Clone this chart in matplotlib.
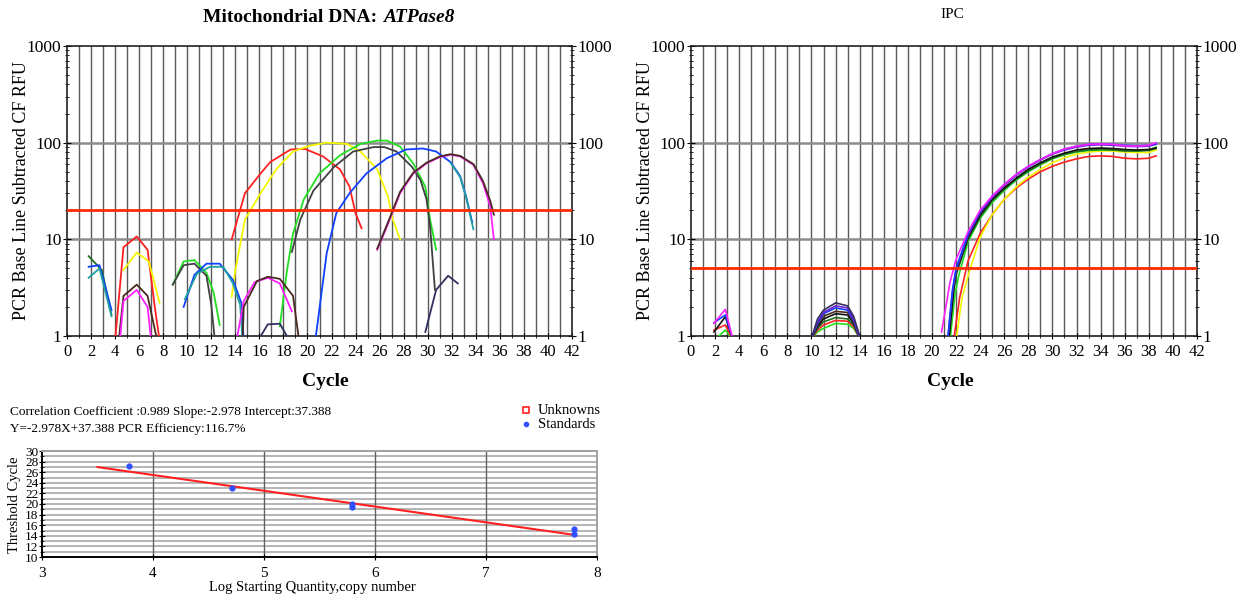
# plot.py
# Recria a figura de qPCR: curvas de amplificação (ATPase8 e IPC) + curva padrão

import matplotlib
matplotlib.use("Agg")
import matplotlib.pyplot as plt
from matplotlib.ticker import FixedLocator, MultipleLocator, FuncFormatter

plt.rcParams["font.family"] = "serif"
plt.rcParams["font.serif"] = ["Liberation Serif", "DejaVu Serif"]

# -------------------------------------------------------------------
# Dados: ATPase8 (ciclo, RFU)
# -------------------------------------------------------------------
atp_red_x = [13.7, 14.8, 16.1, 16.9, 18.6, 19.8, 21.3, 22.7, 23.5, 24.0, 24.5]
atp_red_y = [10, 30, 48, 63, 85, 86, 72, 53, 35, 18.6, 13]
atp_yellow_x = [13.7, 14.0, 14.8, 16.1, 17.4, 18.8, 20.2, 21.6, 23.3, 24.4, 25.8, 26.7, 27.1, 27.7]
atp_yellow_y = [2.55, 4.8, 16, 30, 53, 81, 93, 100, 97, 81, 53, 27.5, 16, 10]
atp_green_x = [17.7, 18.3, 18.8, 19.7, 21.0, 22.7, 24.4, 25.8, 26.6, 27.7, 28.8, 29.8, 30.2, 30.7]
atp_green_y = [1.26, 4.8, 11.5, 26, 48, 74, 97, 105, 105, 91, 61, 35, 16, 7.8]
atp_gray_x = [18.7, 19.4, 20.5, 22.2, 23.8, 25.5, 26.4, 27.4, 28.7, 29.4, 29.9, 30.2, 30.6]
atp_gray_y = [7.4, 16, 32, 56, 81, 90, 90, 81, 56, 41, 26, 13.5, 3.0]
atp_navy2_x = [29.8, 30.7, 31.7, 32.5]
atp_navy2_y = [1.1, 3.0, 4.2, 3.5]
atp_blue_x = [20.7, 21.6, 22.4, 23.5, 24.9, 26.6, 28.2, 29.6, 30.7, 31.9, 32.7, 33.2, 33.7]
atp_blue_y = [1.0, 7.2, 18.7, 30, 48, 69, 85, 87, 81, 63, 45, 27.5, 15]
atp_teal_x = [31.9, 32.7, 33.2, 33.8]
atp_teal_y = [62, 44, 27, 12.7]
atp_magenta_x = [25.8, 26.6, 27.7, 28.8, 29.9, 31.0, 31.9, 32.7, 33.8, 34.6, 35.2, 35.5]
atp_magenta_y = [7.8, 13.5, 30, 48, 61, 71, 75, 72, 59, 38, 22, 10]
atp_brown_x = [25.8, 26.6, 27.7, 28.8, 29.9, 31.0, 31.9, 32.7, 33.8, 34.6, 35.2, 35.5]
atp_brown_y = [8, 14, 31, 49, 62, 72, 76, 73, 60, 40, 25, 18]

# curvas pequenas (ruído abaixo do limiar)
atp_dkgreen_a_x = [1.8, 2.9, 3.7]
atp_dkgreen_a_y = [6.7, 4.8, 1.66]
atp_blue_a_x = [1.8, 2.7, 3.7]
atp_blue_a_y = [5.2, 5.4, 1.86]
atp_teal_a_x = [1.8, 2.7, 3.7]
atp_teal_a_y = [4.0, 5.0, 1.6]
atp_red_a_x = [4.0, 4.7, 5.8, 6.7, 7.3, 7.7]
atp_red_a_y = [0.9, 8.3, 10.7, 7.8, 2.0, 0.9]
atp_yellow_a_x = [4.7, 5.8, 6.8, 7.7]
atp_yellow_a_y = [4.8, 7.3, 5.9, 2.2]
atp_brown_a_x = [4.3, 4.7, 5.8, 6.7, 7.5]
atp_brown_a_y = [0.9, 2.6, 3.4, 2.6, 0.9]
atp_magenta_a_x = [4.4, 4.7, 5.8, 6.7, 7.0]
atp_magenta_a_y = [0.9, 2.3, 3.0, 2.0, 0.9]
atp_green_b_x = [8.8, 9.7, 10.6, 11.6, 12.2, 12.7]
atp_green_b_y = [3.4, 5.9, 6.1, 4.5, 2.8, 1.3]
atp_gray_b_x = [8.8, 9.7, 10.6, 11.6, 12.0, 12.3]
atp_gray_b_y = [3.4, 5.4, 5.6, 4.2, 2.1, 0.9]
atp_blue_b_x = [9.7, 10.6, 11.6, 12.7, 13.8, 14.5, 14.7]
atp_blue_b_y = [2.0, 4.3, 5.6, 5.6, 3.8, 2.2, 0.9]
atp_teal_b_x = [9.8, 10.8, 11.9, 13.0, 13.8, 14.4, 14.6]
atp_teal_b_y = [2.4, 4.4, 5.2, 5.2, 3.5, 2.1, 0.9]
atp_magenta_c_x = [14.1, 14.7, 15.6, 16.7, 17.7, 18.7]
atp_magenta_c_y = [0.9, 2.3, 3.6, 4.0, 3.5, 1.8]
atp_brown_c_x = [14.6, 14.7, 15.8, 16.7, 17.7, 18.8, 19.3]
atp_brown_c_y = [0.9, 2.0, 3.7, 4.1, 3.9, 2.6, 0.9]
atp_navy_c_x = [15.9, 16.7, 17.7, 18.5]
atp_navy_c_y = [0.9, 1.32, 1.34, 0.9]

atp_threshold = 20

# -------------------------------------------------------------------
# Dados: IPC
# -------------------------------------------------------------------
ipc_magenta_x = [20.8, 21.5, 22, 23, 24, 25, 26, 27, 28, 29, 30, 31, 32, 33, 34, 35, 36, 37, 38, 38.6]
ipc_magenta_y = [1.1, 3.6, 6.2, 12, 20, 28, 37, 47, 57, 67, 77, 86, 92, 96, 97, 96, 93, 92, 94, 100]
ipc_blue_x = [21.3, 21.7, 22, 23, 24, 25, 26, 27, 28, 29, 30, 31, 32, 33, 34, 35, 36, 37, 38, 38.6]
ipc_blue_y = [0.9, 3, 5, 11.5, 19.5, 28, 37, 47, 57, 67, 77, 86, 92, 96, 97, 96, 94, 93, 94, 98]
ipc_purple_y = [0.9, 2.8, 4.8, 11, 19, 27, 36, 46, 56, 66, 76, 84, 90, 94, 95, 94, 92, 91, 92, 96]
ipc_black_x = [21.4, 21.8, 22, 23, 24, 25, 26, 27, 28, 29, 30, 31, 32, 33, 34, 35, 36, 37, 38, 38.6]
ipc_black_y = [0.9, 3, 4.6, 10.5, 18, 26, 34, 43, 53, 62, 71, 78, 84, 87, 88, 87, 85, 84, 85, 88]
ipc_dkgreen_y = [0.9, 2.8, 4.3, 10, 17, 25, 33, 42, 51, 60, 69, 76, 81, 84, 85, 84, 82, 82, 83, 87]
ipc_green_x = [21.5, 21.9, 22.2, 23, 24, 25, 26, 27, 28, 29, 30, 31, 32, 33, 34, 35, 36, 37, 38, 38.6]
ipc_green_y = [0.9, 2.6, 4.1, 9.5, 16.5, 24, 32, 41, 50, 59, 68, 75, 80, 83, 84, 84, 83, 82, 84, 90]
ipc_yellow_x = [22.0, 22.5, 23, 24, 25, 26, 27, 28, 29, 30, 31, 32, 33, 34, 35, 36, 37, 38, 38.6]
ipc_yellow_y = [0.9, 2.5, 4.2, 10.5, 18, 26, 35, 44, 53, 62, 70, 76, 80, 82, 82, 80, 79, 79, 84]
ipc_red_x = [21.8, 22.3, 23, 24, 25, 26, 27, 28, 29, 30, 31, 32, 33, 34, 35, 36, 37, 38, 38.6]
ipc_red_y = [0.9, 2.5, 6, 11.5, 18, 26, 34, 42, 50, 57, 63, 68, 72, 73, 72, 69, 68, 69, 73]

# pequenas bolhas antes da amplificação
ipc_bump1_x = [1.9, 2.85, 3.5]
ipc_bump1_magenta = [1.35, 1.89, 0.9]
ipc_bump1_blue = [1.37, 1.65, 0.9]
ipc_bump1_black = [1.1, 1.58, 0.9]
ipc_bump1_red = [1.15, 1.3, 0.9]
ipc_bump1_green = [0.9, 1.15, 0.9]
ipc_bump2_x = [10.0, 10.5, 11.0, 12.0, 13.0, 13.5, 14.0]
ipc_bump2_navy = [0.95, 1.5, 1.85, 2.2, 2.05, 1.6, 1.0]
ipc_bump2_purple = [0.95, 1.4, 1.75, 2.05, 1.95, 1.5, 0.95]
ipc_bump2_blue = [0.95, 1.35, 1.7, 1.95, 1.85, 1.45, 0.95]
ipc_bump2_brown = [0.95, 1.3, 1.6, 1.8, 1.75, 1.4, 0.95]
ipc_bump2_black = [0.95, 1.25, 1.5, 1.7, 1.65, 1.35, 0.95]
ipc_bump2_dkgreen = [0.95, 1.2, 1.4, 1.55, 1.5, 1.3, 0.95]
ipc_bump2_red = [0.95, 1.15, 1.3, 1.45, 1.42, 1.25, 0.95]
ipc_bump2_green = [0.95, 1.1, 1.2, 1.35, 1.32, 1.2, 0.95]

ipc_threshold = 5

# -------------------------------------------------------------------
# Dados: curva padrão
# -------------------------------------------------------------------
std_logq = [3.78, 4.71, 5.79, 5.79, 7.79, 7.79]
std_ct = [27.2, 23.1, 20.0, 19.5, 15.3, 14.3]
fit_slope = -2.978
fit_intercept = 37.388
fit_range = [3.5, 7.78]

# cores
RED = "#ff2020"
YELLOW = "#f5f500"
GREEN = "#20e020"
GRAY = "#404040"
BLUE = "#1040ff"
TEAL = "#20a0a0"
MAGENTA = "#ff20ff"
BROWN = "#4a2a20"
NAVY = "#303060"
DKGREEN = "#207020"
PURPLE = "#7020d0"
BLACK = "#101010"


def px(x):
    return x / 1247


def py(y):
    return 1 - y / 595


def setup_amp(ax, threshold):
    ax.set_yscale("log")
    ax.set_xlim(0, 42)
    ax.set_ylim(1, 1000)
    ax.xaxis.set_major_locator(MultipleLocator(2))
    ax.xaxis.set_minor_locator(MultipleLocator(1))
    ax.yaxis.set_major_locator(FixedLocator([1, 10, 100, 1000]))
    ax.yaxis.set_major_formatter(FuncFormatter(lambda v, p: f"{v:g}"))
    for c in range(1, 42):
        ax.axvline(c, color="#5a5a5a", lw=1.0, zorder=0)
    for v in (10, 100):
        ax.axhline(v, color="#8c8c8c", lw=1.8, zorder=0)
    ax.axhline(threshold, color="#ff2a00", lw=2.0, zorder=5)
    ax.tick_params(axis="y", which="both", left=True, right=True,
                   labelleft=True, labelright=True, direction="inout",
                   labelsize=12.5, pad=1)
    ax.tick_params(axis="y", which="major", length=6)
    ax.tick_params(axis="y", which="minor", length=3)
    ax.tick_params(axis="x", which="both", direction="inout", labelsize=12, pad=3)
    ax.tick_params(axis="x", which="major", length=5)
    ax.tick_params(axis="x", which="minor", length=3)
    for s in ax.spines.values():
        s.set_color("#202020")
        s.set_linewidth(1.2)


fig = plt.figure(figsize=(12.47, 5.95), dpi=100)

# -------------------------------------------------------------------
# Painel esquerdo: ATPase8
# -------------------------------------------------------------------
ax1 = fig.add_axes([px(67), py(336), px(505), 290 / 595])
setup_amp(ax1, atp_threshold)

atp_curves = [
    (atp_red_x, atp_red_y, RED), (atp_yellow_x, atp_yellow_y, YELLOW),
    (atp_green_x, atp_green_y, GREEN), (atp_gray_x, atp_gray_y, GRAY),
    (atp_navy2_x, atp_navy2_y, NAVY), (atp_blue_x, atp_blue_y, BLUE),
    (atp_teal_x, atp_teal_y, TEAL), (atp_magenta_x, atp_magenta_y, MAGENTA),
    (atp_brown_x, atp_brown_y, BROWN),
    (atp_dkgreen_a_x, atp_dkgreen_a_y, DKGREEN), (atp_blue_a_x, atp_blue_a_y, BLUE),
    (atp_teal_a_x, atp_teal_a_y, TEAL), (atp_red_a_x, atp_red_a_y, RED),
    (atp_yellow_a_x, atp_yellow_a_y, YELLOW), (atp_brown_a_x, atp_brown_a_y, BROWN),
    (atp_magenta_a_x, atp_magenta_a_y, MAGENTA), (atp_green_b_x, atp_green_b_y, GREEN),
    (atp_gray_b_x, atp_gray_b_y, GRAY), (atp_blue_b_x, atp_blue_b_y, BLUE),
    (atp_teal_b_x, atp_teal_b_y, TEAL), (atp_magenta_c_x, atp_magenta_c_y, MAGENTA),
    (atp_brown_c_x, atp_brown_c_y, BROWN), (atp_navy_c_x, atp_navy_c_y, NAVY),
]
for xs, ys, col in atp_curves:
    ax1.plot(xs, ys, color=col, lw=1.3, zorder=3)

# -------------------------------------------------------------------
# Painel direito: IPC
# -------------------------------------------------------------------
ax2 = fig.add_axes([px(691), py(336), px(506), 290 / 595])
setup_amp(ax2, ipc_threshold)

ipc_curves = [
    (ipc_red_x, ipc_red_y, RED), (ipc_yellow_x, ipc_yellow_y, YELLOW),
    (ipc_green_x, ipc_green_y, GREEN), (ipc_black_x, ipc_dkgreen_y, DKGREEN),
    (ipc_black_x, ipc_black_y, BLACK), (ipc_blue_x, ipc_purple_y, PURPLE),
    (ipc_blue_x, ipc_blue_y, BLUE), (ipc_magenta_x, ipc_magenta_y, MAGENTA),
    (ipc_bump1_x, ipc_bump1_green, GREEN), (ipc_bump1_x, ipc_bump1_red, RED),
    (ipc_bump1_x, ipc_bump1_black, BLACK), (ipc_bump1_x, ipc_bump1_blue, BLUE),
    (ipc_bump1_x, ipc_bump1_magenta, MAGENTA),
    (ipc_bump2_x, ipc_bump2_green, GREEN), (ipc_bump2_x, ipc_bump2_red, RED),
    (ipc_bump2_x, ipc_bump2_dkgreen, DKGREEN), (ipc_bump2_x, ipc_bump2_black, BLACK),
    (ipc_bump2_x, ipc_bump2_brown, BROWN), (ipc_bump2_x, ipc_bump2_blue, BLUE),
    (ipc_bump2_x, ipc_bump2_purple, PURPLE), (ipc_bump2_x, ipc_bump2_navy, NAVY),
]
for xs, ys, col in ipc_curves:
    ax2.plot(xs, ys, color=col, lw=1.2, zorder=3)

# títulos e rótulos
fig.text(px(377), py(18), "Mitochondrial DNA:", ha="right", va="center",
         fontsize=14, fontweight="bold")
fig.text(px(383), py(18), "ATPase8", ha="left", va="center",
         fontsize=14, fontweight="bold", fontstyle="italic")
fig.text(px(952), py(14), "IPC", ha="center", va="center", fontsize=11)

for xl in (22, 646):
    fig.text(px(xl), py(191), "PCR Base Line Subtracted CF RFU", rotation=90,
             ha="center", va="center", fontsize=13)
for xc in (325, 950):
    fig.text(px(xc), py(382), "Cycle", ha="center", va="center",
             fontsize=14, fontweight="bold")

# -------------------------------------------------------------------
# Curva padrão
# -------------------------------------------------------------------
ax3 = fig.add_axes([px(42), py(557), px(555), 106 / 595])
ax3.set_xlim(3, 8)
ax3.set_ylim(10, 30)
ax3.set_xticks([3, 4, 5, 6, 7, 8])
ax3.yaxis.set_major_locator(MultipleLocator(2))
ax3.yaxis.set_minor_locator(MultipleLocator(1))
for v in range(11, 30):
    ax3.axhline(v, color="#b4b4b4", lw=1.4, zorder=0)
for v in (4, 5, 6, 7):
    ax3.axvline(v, color="#606060", lw=1.0, zorder=0)
ax3.spines["top"].set_color("#a0a0a0")
ax3.spines["right"].set_color("#a0a0a0")
ax3.spines["top"].set_linewidth(1.4)
ax3.spines["right"].set_linewidth(1.4)
ax3.spines["left"].set_linewidth(1.4)
ax3.spines["bottom"].set_linewidth(1.4)
ax3.tick_params(axis="y", which="both", direction="inout", labelsize=9.5, pad=0)
ax3.tick_params(axis="y", which="major", length=5)
ax3.tick_params(axis="y", which="minor", length=3)
ax3.tick_params(axis="x", direction="inout", length=4, labelsize=11, pad=5)

fit_y = [fit_slope * x + fit_intercept for x in fit_range]
ax3.plot(fit_range, fit_y, color="#ff2020", lw=1.5, zorder=3)
ax3.plot(std_logq, std_ct, "o", color="#3050ff", ms=3.5, zorder=4)

fig.text(px(15), py(505), "Threshold Cycle", rotation=90, ha="center",
         va="center", fontsize=10.5)
fig.text(px(312), py(587), "Log Starting Quantity,copy number", ha="center",
         va="center", fontsize=10.5)

fig.text(px(10), py(412), "Correlation Coefficient :0.989 Slope:-2.978 Intercept:37.388",
         ha="left", va="center", fontsize=9.5)
fig.text(px(10), py(429), "Y=-2.978X+37.388 PCR Efficiency:116.7%",
         ha="left", va="center", fontsize=9.5)

# legenda manual
fig.lines.append(plt.Line2D([px(526)], [py(410)], marker="s", ms=4, mfc="white",
                            mec="#ff2020", mew=1.2, transform=fig.transFigure))
fig.lines.append(plt.Line2D([px(526)], [py(424)], marker="o", ms=3, color="#3050ff",
                            transform=fig.transFigure))
fig.text(px(538), py(410), "Unknowns", ha="left", va="center", fontsize=10.5)
fig.text(px(538), py(424), "Standards", ha="left", va="center", fontsize=10.5)

plt.savefig("out.png", dpi=100)
plt.close()
